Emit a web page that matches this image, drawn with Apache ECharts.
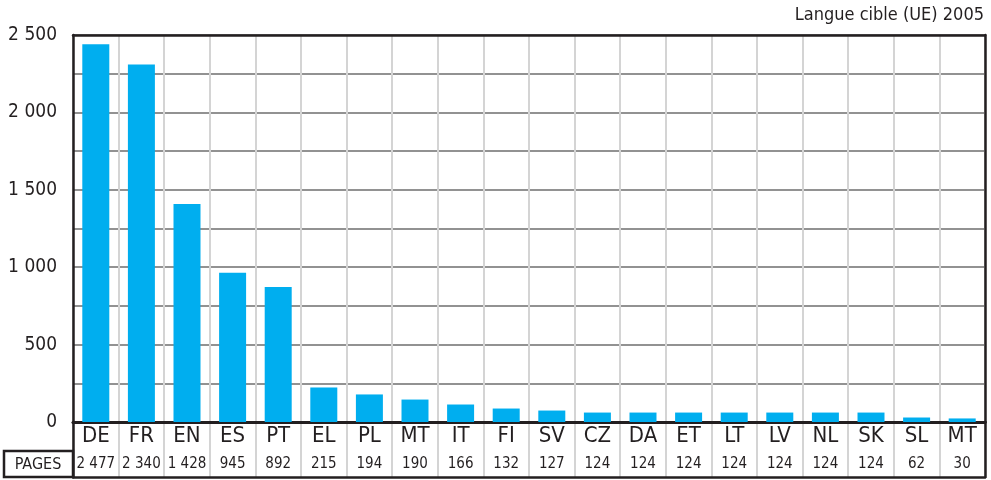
<!DOCTYPE html>
<html>
<head>
<meta charset="utf-8">
<script src="https://cdn.jsdelivr.net/npm/echarts@6/dist/echarts.min.js"></script>
<style>
  html, body { margin: 0; padding: 0; background: #fff; }
  #chart { width: 991px; height: 480px; }
</style>
</head>
<body>
<div id="chart"></div>
<script>
const LANGS = ['DE', 'FR', 'EN', 'ES', 'PT', 'EL', 'PL', 'MT', 'IT', 'FI',
  'SV', 'CZ', 'DA', 'ET', 'LT', 'LV', 'NL', 'SK', 'SL', 'MT'];
// Bar heights as drawn in the picture
const BAR_VALUES = [2440, 2310, 1408, 964, 872, 223, 178, 145, 113, 87,
  74, 61, 61, 61, 61, 61, 61, 61, 29, 23];
// Table row under the axis
const PAGES = ['2 477', '2 340', '1 428', '945', '892', '215', '194', '190', '166', '132',
  '127', '124', '124', '124', '124', '124', '124', '124', '62', '30'];
const Y_TICKS = { min: 0, max: 2500, step: 250, labelStep: 500 };

const FONT = '"DejaVu Sans Condensed", "Liberation Sans", sans-serif';
const INK = '#231f20';
const BLUE = '#00aeef';
const VGRID = '#d4d4d4';

function spaced(v) {
  return String(v).replace(/\B(?=(\d{3})+(?!\d))/g, ' ');
}

const chart = echarts.init(document.getElementById('chart'), null, { renderer: 'canvas' });

// index-based categories so the two "MT" entries stay distinct
const idx = LANGS.map((_, i) => String(i));

// plain frame axis: only a thick line
function frameAxis(extra) {
  return Object.assign({
    axisLine: { show: true, onZero: false, lineStyle: { color: INK, width: 2.5 } },
    axisTick: { show: false }, axisLabel: { show: false }, splitLine: { show: false },
  }, extra);
}

chart.setOption({
  animation: false,
  title: {
    text: 'Langue cible (UE) 2005',
    right: 7, top: 6, padding: 0,
    textStyle: { fontFamily: FONT, fontSize: 18, fontWeight: 'normal', color: INK },
  },
  grid: [
    { left: 73, right: 6, top: 35, height: 387 },
    { left: 73, right: 6, top: 422, height: 55 },
  ],
  xAxis: [
    {
      type: 'category', gridIndex: 0, data: idx,
      axisLine: { lineStyle: { color: INK, width: 3 } },
      axisTick: { show: false },
      axisLabel: {
        interval: 0, margin: 14, verticalAlign: 'middle',
        fontFamily: FONT, fontSize: 22, color: INK,
        formatter: (v, i) => LANGS[i],
      },
      splitLine: { show: true, interval: 0, lineStyle: { color: VGRID, width: 2 } },
    },
    {
      type: 'category', gridIndex: 0, data: idx, position: 'bottom', offset: 29,
      axisLine: { show: true, lineStyle: { color: INK, width: 2.5 } },
      axisTick: { show: false },
      axisLabel: {
        interval: 0, margin: 13, verticalAlign: 'middle',
        fontFamily: FONT, fontSize: 15, color: INK,
        formatter: (v, i) => PAGES[i],
      },
      splitLine: { show: false },
    },
    {
      type: 'category', gridIndex: 1, data: idx,
      axisLine: { show: true, onZero: false, lineStyle: { color: INK, width: 2.5 } },
      axisTick: { show: false }, axisLabel: { show: false },
      splitLine: { show: true, interval: 0, lineStyle: { color: VGRID, width: 2 } },
    },
    frameAxis({ type: 'category', gridIndex: 0, data: idx, position: 'top' }),
  ],
  yAxis: [
    {
      type: 'value', gridIndex: 0,
      min: Y_TICKS.min, max: Y_TICKS.max, interval: Y_TICKS.step,
      axisLine: { show: true, lineStyle: { color: INK, width: 2.5 } },
      axisTick: { show: false },
      axisLabel: {
        margin: 16, fontFamily: FONT, fontSize: 19, color: INK,
        formatter: v => (v % Y_TICKS.labelStep === 0 ? spaced(v) : ''),
      },
      splitLine: { show: true, lineStyle: { color: '#6e6e6e', width: 1.5 } },
    },
    frameAxis({ type: 'value', gridIndex: 1, min: 0, max: 1, position: 'left' }),
    frameAxis({ type: 'value', gridIndex: 0, min: Y_TICKS.min, max: Y_TICKS.max, position: 'right' }),
    frameAxis({ type: 'value', gridIndex: 1, min: 0, max: 1, position: 'right' }),
  ],
  graphic: [
    {
      type: 'rect', shape: { x: 4, y: 451, width: 69, height: 26 },
      style: { fill: 'none', stroke: INK, lineWidth: 2.5 }, z: 100,
    },
    {
      type: 'text', x: 38, y: 465,
      style: {
        text: 'PAGES', fontFamily: FONT, fontSize: 16, fill: INK,
        align: 'center', verticalAlign: 'middle',
      },
      z: 100,
    },
  ],
  series: [
    {
      type: 'bar', xAxisIndex: 0, yAxisIndex: 0,
      data: BAR_VALUES, barWidth: 27,
      itemStyle: { color: BLUE },
      z: 3,
    },
  ],
});
</script>
</body>
</html>
